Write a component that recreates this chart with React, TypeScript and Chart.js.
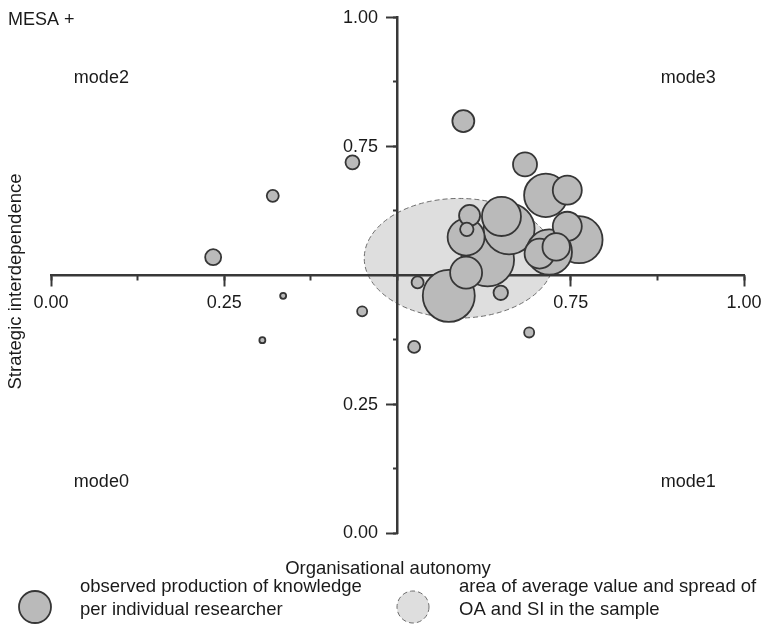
import React, { useEffect, useRef } from 'react';
import { Chart, registerables } from 'chart.js';

Chart.register(...registerables);

// Units plotted by organisational autonomy (OA) and strategic interdependence (SI);
// bubble area follows the observed knowledge production per researcher.
const unitName = 'MESA +';
const oa = [0.630, 0.574, 0.661, 0.762, 0.719, 0.714, 0.650, 0.599, 0.599, 0.705, 0.745, 0.745, 0.729, 0.684, 0.595, 0.604, 0.234, 0.649, 0.435, 0.600, 0.320, 0.529, 0.524, 0.449, 0.690, 0.335, 0.305];
const si = [0.530, 0.460, 0.590, 0.569, 0.545, 0.655, 0.614, 0.574, 0.505, 0.542, 0.665, 0.595, 0.555, 0.715, 0.799, 0.616, 0.535, 0.466, 0.719, 0.589, 0.654, 0.486, 0.361, 0.430, 0.389, 0.460, 0.374];
const production = [78.0, 75.1, 72.3, 61.4, 57.3, 52.3, 42.3, 38.0, 28.4, 25.0, 23.4, 23.4, 20.9, 16.0, 13.4, 12.3, 7.1, 5.8, 5.4, 5.0, 4.0, 4.0, 4.0, 2.8, 2.8, 1.0, 1.0];

// Sample average and spread of OA and SI
const meanOA = 0.589;
const meanSI = 0.533;
const spreadOA = 0.137;
const spreadSI = 0.116;

const labelledTicks = [0, 0.25, 0.75, 1];
const quadrantNames = ['mode0', 'mode1', 'mode2', 'mode3'];
const xTitle = 'Organisational autonomy';
const yTitle = 'Strategic interdependence';
const legendBubble = ['observed production of knowledge', 'per individual researcher'];
const legendArea = ['area of average value and spread of', 'OA and SI in the sample'];

const FONT = '"Liberation Sans", Arial, Helvetica, sans-serif';
const AXIS = '#383838';
const TEXT = '#1a1a1a';
const BUBBLE_FILL = '#bababa';
const BUBBLE_EDGE = '#363636';
const AREA_FILL = '#dedede';
const AREA_EDGE = '#6e6e6e';

const bubbleRadius = (p: number) => 3 * Math.sqrt(p);
const tickLabel = (v: any) => (labelledTicks.includes(Number(v)) ? Number(v).toFixed(2) : '');

const noPadding = (s: any) => {
  s.paddingLeft = 0;
  s.paddingRight = 0;
  s.paddingTop = 0;
  s.paddingBottom = 0;
};

const decorations = {
  id: 'decorations',
  beforeDraw(chart: any) {
    const { ctx, width, height } = chart;
    const xs = chart.scales.x;
    const ys = chart.scales.y;
    ctx.save();
    ctx.fillStyle = '#ffffff';
    ctx.fillRect(0, 0, width, height);

    // average / spread area
    const cx = xs.getPixelForValue(meanOA);
    const cy = ys.getPixelForValue(meanSI);
    const rx = xs.getPixelForValue(meanOA + spreadOA) - cx;
    const ry = cy - ys.getPixelForValue(meanSI + spreadSI);
    ctx.beginPath();
    ctx.ellipse(cx, cy, rx, ry, 0, 0, Math.PI * 2);
    ctx.fillStyle = AREA_FILL;
    ctx.fill();
    ctx.setLineDash([5, 3]);
    ctx.lineWidth = 1;
    ctx.strokeStyle = AREA_EDGE;
    ctx.stroke();
    ctx.restore();
  },
  afterDraw(chart: any) {
    const { ctx } = chart;
    const xs = chart.scales.x;
    const ys = chart.scales.y;
    ctx.save();
    ctx.fillStyle = TEXT;
    ctx.font = `18px ${FONT}`;

    // tick labels of the vertical axis, left of its tick marks
    const axisX = xs.getPixelForValue(0.5);
    ctx.textAlign = 'right';
    ctx.textBaseline = 'middle';
    ys.ticks.forEach((t: any) => {
      const label = tickLabel(t.value);
      if (label) ctx.fillText(label, axisX - 19.5, ys.getPixelForValue(t.value) + 0.5);
    });

    ctx.textBaseline = 'alphabetic';
    ctx.textAlign = 'left';
    ctx.fillText(unitName, 8, 25);

    // quadrant names
    const qx = [0.033, 0.880, 0.033, 0.880];
    const qy = [0.09, 0.09, 0.873, 0.873];
    quadrantNames.forEach((name, i) => {
      ctx.fillText(name, xs.getPixelForValue(qx[i]), ys.getPixelForValue(qy[i]));
    });

    // axis titles
    ctx.font = `18.5px ${FONT}`;
    ctx.textAlign = 'center';
    ctx.fillText(xTitle, 388, 574);
    ctx.save();
    ctx.translate(21, 281.5);
    ctx.rotate(-Math.PI / 2);
    ctx.fillText(yTitle, 0, 0);
    ctx.restore();

    // legend
    ctx.beginPath();
    ctx.arc(35, 607, 16, 0, Math.PI * 2);
    ctx.fillStyle = BUBBLE_FILL;
    ctx.fill();
    ctx.lineWidth = 1.8;
    ctx.strokeStyle = BUBBLE_EDGE;
    ctx.stroke();

    ctx.beginPath();
    ctx.arc(413, 607, 16, 0, Math.PI * 2);
    ctx.fillStyle = AREA_FILL;
    ctx.fill();
    ctx.setLineDash([5, 3]);
    ctx.lineWidth = 1;
    ctx.strokeStyle = AREA_EDGE;
    ctx.stroke();
    ctx.setLineDash([]);

    ctx.fillStyle = TEXT;
    ctx.textAlign = 'left';
    legendBubble.forEach((line, i) => ctx.fillText(line, 80, 592 + i * 22.7));
    legendArea.forEach((line, i) => ctx.fillText(line, 459, 592 + i * 22.7));
    ctx.restore();
  },
};

export default function App() {
  const canvasRef = useRef<HTMLCanvasElement | null>(null);

  useEffect(() => {
    const canvas = canvasRef.current;
    if (!canvas) return;

    const points = oa.map((x, i) => ({ x, y: si[i], r: bubbleRadius(production[i]) }));
    const majorTickColor = (c: any) =>
      c.tick && labelledTicks.includes(c.tick.value) ? AXIS : 'rgba(0,0,0,0)';

    const chart = new Chart(canvas, {
      type: 'bubble',
      data: {
        datasets: [
          {
            data: points,
            backgroundColor: BUBBLE_FILL,
            borderColor: BUBBLE_EDGE,
            borderWidth: 1.8,
            hoverBorderWidth: 1.8,
            hoverRadius: 0,
            clip: false,
          } as any,
        ],
      },
      options: {
        responsive: false,
        animation: false,
        devicePixelRatio: 1,
        events: [],
        layout: { autoPadding: false, padding: { left: 51, right: 18, top: 17.5, bottom: 94 } },
        plugins: { legend: { display: false }, tooltip: { enabled: false } },
        scales: {
          x: {
            type: 'linear',
            position: { y: 0.5 } as any,
            min: 0,
            max: 1,
            ticks: {
              stepSize: 0.25,
              padding: 7,
              color: TEXT,
              font: { size: 18, family: FONT },
              autoSkip: false,
              maxRotation: 0,
              callback: tickLabel,
            },
            grid: { drawOnChartArea: false, tickLength: 10, tickWidth: 2, tickColor: majorTickColor },
            border: { color: AXIS, width: 2.5 },
            afterFit: noPadding,
          },
          xMinor: {
            type: 'linear',
            axis: 'x',
            position: { y: 0.5 } as any,
            min: 0,
            max: 1,
            ticks: { stepSize: 0.125, display: false },
            grid: { drawOnChartArea: false, tickLength: 5.5, tickWidth: 2, tickColor: AXIS },
            border: { display: false },
            afterFit: noPadding,
          },
          y: {
            type: 'linear',
            position: { x: 0.5 } as any,
            min: 0,
            max: 1,
            ticks: { stepSize: 0.25, display: false },
            grid: { drawOnChartArea: false, tickLength: 10, tickWidth: 2, tickColor: majorTickColor },
            border: { color: AXIS, width: 2.5 },
            afterFit: noPadding,
          },
          yMinor: {
            type: 'linear',
            axis: 'y',
            position: { x: 0.5 } as any,
            min: 0,
            max: 1,
            ticks: { stepSize: 0.125, display: false },
            grid: { drawOnChartArea: false, tickLength: 5, tickWidth: 2, tickColor: AXIS },
            border: { display: false },
            afterFit: noPadding,
          },
        } as any,
      },
      plugins: [decorations],
    });

    return () => chart.destroy();
  }, []);

  return (
    <div style={{ position: 'fixed', left: 0, top: 0, width: 762, height: 627, background: '#ffffff' }}>
      <canvas ref={canvasRef} width={762} height={627} style={{ display: 'block' }} />
    </div>
  );
}
